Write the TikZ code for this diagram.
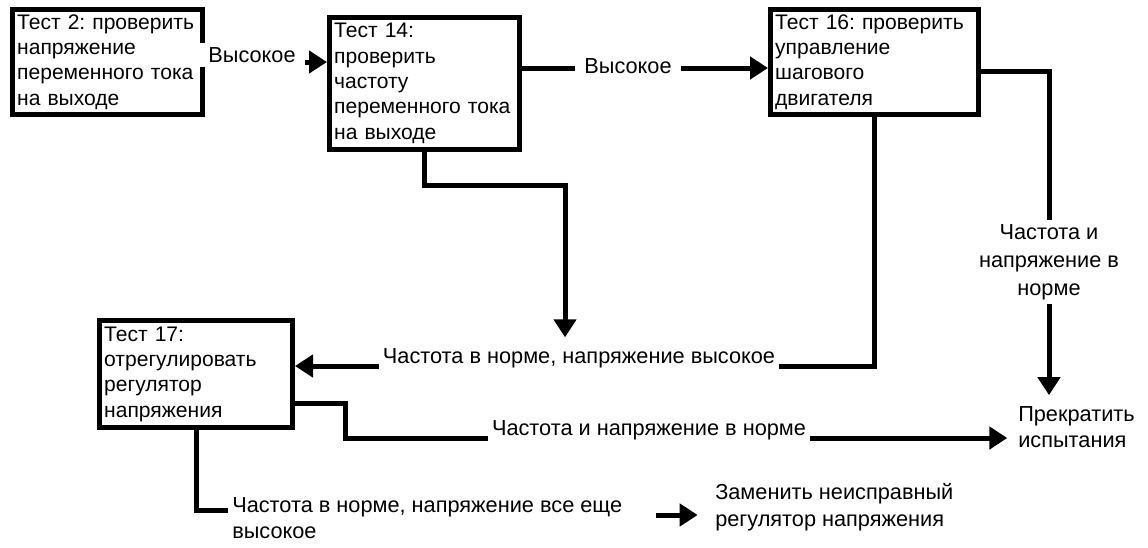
\documentclass[tikz,border=0pt]{standalone}
\usepackage{fontspec}
\setmainfont{Liberation Sans}
\usepackage{tikz}
\usetikzlibrary{arrows.meta}
\frenchspacing
\tikzset{
  acpicture/.style={x=0.75pt, y=-0.75pt},
  acbox/.style={draw, line width=3.75pt, align=left, font=\fontsize{15.8pt}{19pt}\selectfont, inner xsep=3.5pt, inner ysep=2pt, minimum width=142.5pt, minimum height=78.75pt, text width=135.5pt},
  acwide/.style={acbox, minimum width=156pt, text width=149pt},
  acnote/.style={align=center, font=\fontsize{16.3pt}{20pt}\selectfont, inner sep=3pt},
  acleft/.style={acnote, align=left},
  accover/.style={acnote, fill=white, minimum width=80pt, inner ysep=3pt},
  acarrow/.style={-{Triangle[length=13.5pt, width=16.5pt]}, line width=3.75pt},
  acline/.style={line width=3.75pt}
}

\begin{document}
\begin{tikzpicture}[acpicture]
\useasboundingbox (0,0) rectangle (1148,547);
% test boxes
\node[acbox] (t2) at (107.5,62) {Тест 2: проверить\\напряжение\\переменного тока\\на выходе};
\node[acbox, minimum height=99pt] (t14) at (424.5,83.5) {Тест 14:\\проверить\\частоту\\переменного тока\\на выходе};
\node[acwide] (t16) at (874.5,62) {Тест 16: проверить\\управление\\шагового\\двигателя};
\node[acbox, minimum width=144.75pt, text width=137.75pt, minimum height=80.25pt] (t17) at (196,374) {Тест 17:\\отрегулировать\\регулятор\\напряжения};
% outcomes
\node[acnote, font=\fontsize{16.3pt}{21pt}\selectfont] (ok1) at (1049,262) {Частота и\\напряжение в\\норме};
\node[acnote] (fhigh) at (579,358) {Частота в норме, напряжение высокое};
\node[acnote] (ok2) at (649,430) {Частота и напряжение в норме};
\node[acleft, anchor=west] (still) at (228,518) {Частота в норме, напряжение все еще\\высокое};
\node[acleft, anchor=west] (stop) at (1014,427) {Прекратить\\испытания};
\node[acleft, anchor=west] (repl) at (711,507) {Заменить неисправный\\регулятор напряжения};
% rows and bends
\coordinate (hirow) at (0,68);
\coordinate (t16row) at (0,71);
\coordinate (t14turn) at (565,185);
\coordinate (fhighrow) at (0,366);
\coordinate (t17row) at (0,403);
\coordinate (okturn) at (345,438);
\coordinate (stillrow) at (0,510);
\coordinate (replrow) at (0,515);
% connectors
\draw[acarrow] (t2.east) -- (t2.east -| t14.west);
\draw[acarrow] (t14.east |- hirow) -- (t16.west |- hirow);
\node[accover] (hi1) at (252,55) {Высокое};
\node[accover] (hi2) at (628,66) {Высокое};
\draw[acline] (t16.east |- t16row) -| (ok1.north);
\draw[acarrow, shorten >=5pt] (ok1.south) -- (ok1.south |- stop.north);
\draw[acarrow, shorten >=5pt] (t14.south) |- (t14turn) -- (t14turn |- fhigh.north);
\draw[acline] (t16.south) |- (fhigh.east |- fhighrow);
\draw[acarrow] (fhigh.west |- fhighrow) -- (t17.east |- fhighrow);
\draw[acline] (t17.east |- t17row) -| (okturn) -- (ok2.west |- okturn);
\draw[acarrow, shorten >=5pt] (ok2.east |- okturn) -- (stop.west |- okturn);
\draw[acline] (t17.south) |- (still.west |- stillrow);
\draw[acarrow, shorten <=22pt, shorten >=10pt] (still.east |- replrow) -- (repl.west |- replrow);
\end{tikzpicture}
\end{document}
